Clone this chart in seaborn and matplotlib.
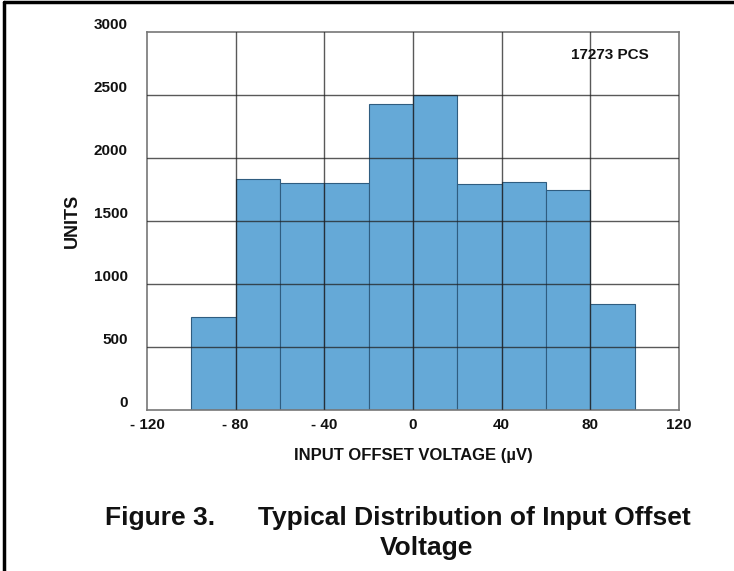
import matplotlib
matplotlib.use("Agg")
import matplotlib.pyplot as plt
import seaborn as sns
import numpy as np
from matplotlib import font_manager
from matplotlib.lines import Line2D

# ---- data ----
bin_edges = [-100, -80, -60, -40, -20, 0, 20, 40, 60, 80, 100]
counts = [737, 1836, 1802, 1803, 2431, 2500, 1794, 1810, 1743, 838]
x_ticks = [-120, -80, -40, 0, 40, 80, 120]
x_tick_labels = ["- 120", "- 80", "- 40", "0", "40", "80", "120"]
y_ticks = [0, 500, 1000, 1500, 2000, 2500, 3000]
y_tick_labels = ["0", "500", "1000", "1500", "2000", "2500", "3000"]
x_grid = [-80, -40, 0, 40, 80]

sns.set_theme(style="white")
avail = {f.name for f in font_manager.fontManager.ttflist}
fam = ["Liberation Sans Narrow", "Liberation Sans", "DejaVu Sans"]
fam = [f for f in fam if f in avail] or ["DejaVu Sans"]
plt.rcParams["font.family"] = fam

centers = [(bin_edges[i] + bin_edges[i + 1]) / 2 for i in range(len(counts))]

fig = plt.figure(figsize=(7.34, 5.71), dpi=100)
ax = fig.add_axes([147 / 734, 1 - 410 / 571, (679 - 147) / 734, (410 - 32) / 571])

sns.histplot(x=centers, weights=counts, bins=bin_edges, ax=ax,
             color="#65a9d7", alpha=1.0, edgecolor="#2f5d80", linewidth=0.8,
             zorder=1)

ax.set_xlim(-120, 120)
ax.set_ylim(0, 3000)
ax.set_xticks(x_ticks)
ax.set_xticklabels(x_tick_labels, fontsize=11, fontweight="bold", color="#111111")
ax.set_yticks(y_ticks)
ax.set_yticklabels(y_tick_labels, fontsize=11, fontweight="bold", color="#111111",
                   va="bottom")
ax.tick_params(axis="x", length=0, pad=6)
ax.tick_params(axis="y", length=0, pad=14)

# grid lines drawn over bars
for yv in y_ticks[1:-1]:
    ax.axhline(yv, color="#222222", lw=1.0, alpha=0.75, zorder=3)
for xv in x_grid:
    ax.axvline(xv, color="#222222", lw=1.0, alpha=0.75, zorder=3)

for s in ax.spines.values():
    s.set_color("#777777")
    s.set_linewidth(1.2)
    s.set_visible(True)

ax.set_xlabel("INPUT OFFSET VOLTAGE (µV)", fontsize=12, fontweight="bold",
              color="#111111", labelpad=11)
ax.set_ylabel("UNITS", fontsize=13, fontweight="bold", color="#111111", labelpad=9)

ax.text(89, 2817, "17273 PCS", fontsize=11, fontweight="bold", color="#111111",
        ha="center", va="center", zorder=4)

fig.text(105 / 734, 1 - 518 / 571, "Figure 3.",
         fontsize=19, fontweight="bold", color="#111111", ha="left", va="center")
fig.text(474 / 734, 1 - 518 / 571, "Typical Distribution of Input Offset",
         fontsize=19, fontweight="bold", color="#111111", ha="center", va="center")
fig.text(427 / 734, 1 - 548 / 571, "Voltage",
         fontsize=19, fontweight="bold", color="#111111", ha="center", va="center")

# frame of figure: left and top edges
fig.add_artist(Line2D([3.5 / 734, 3.5 / 734], [0, 1 - 1.5 / 571], transform=fig.transFigure,
                      color="black", lw=2.5))
fig.add_artist(Line2D([3.5 / 734, 1], [1 - 1.5 / 571, 1 - 1.5 / 571], transform=fig.transFigure,
                      color="black", lw=2.5))

fig.savefig("out.png", dpi=100)
